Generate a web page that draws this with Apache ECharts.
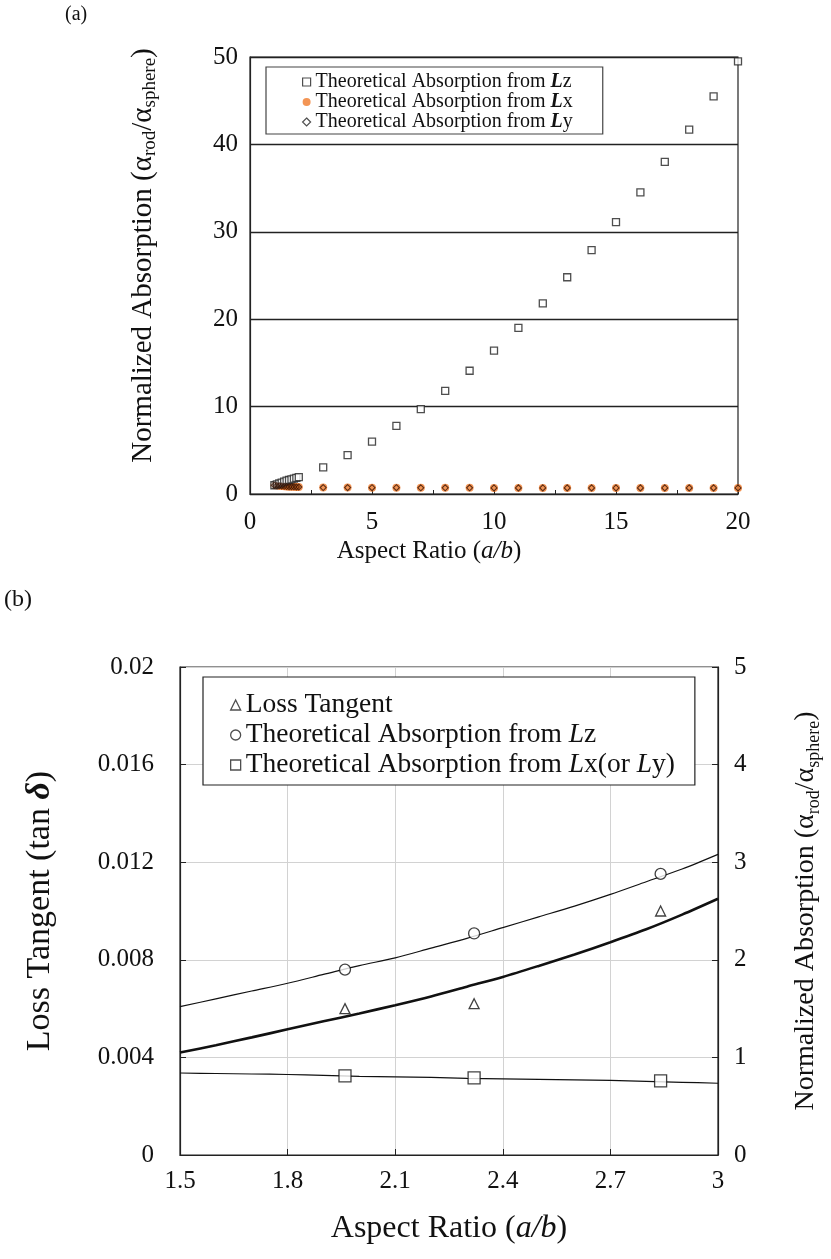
<!DOCTYPE html>
<html><head><meta charset="utf-8">
<script src="https://cdn.jsdelivr.net/npm/echarts@6/dist/echarts.min.js"></script>
<style>html,body{margin:0;padding:0;background:#fff}#c{width:831px;height:1259px}</style>
</head><body><div id="c"></div>
<script>
// ---------- (a) data ----------
const ratioA = [1.0,1.1,1.2,1.3,1.4,1.5,1.6,1.7,1.8,1.9,2.0,3,4,5,6,7,8,9,10,11,12,13,14,15,16,17,18,19,20];
const lzA = [1.00,1.10,1.20,1.30,1.41,1.52,1.60,1.68,1.76,1.85,1.94,3.05,4.45,6.0,7.8,9.7,11.8,14.1,16.4,19.0,21.8,24.8,27.9,31.1,34.5,38.0,41.7,45.5,49.5];
const lxA = [1.00,0.97,0.94,0.91,0.88,0.85,0.84,0.83,0.82,0.81,0.80,0.74,0.73,0.72,0.72,0.71,0.71,0.71,0.70,0.70,0.70,0.70,0.70,0.70,0.70,0.70,0.70,0.70,0.70];
const lyA = [1.00,0.97,0.94,0.91,0.88,0.85,0.84,0.83,0.82,0.81,0.80,0.74,0.73,0.72,0.72,0.71,0.71,0.71,0.70,0.70,0.70,0.70,0.70,0.70,0.70,0.70,0.70,0.70,0.70];

// ---------- (b) data ----------
const curveX = [1.5,1.6,1.7,1.8,1.9,2.0,2.1,2.2,2.3,2.4,2.5,2.6,2.7,2.8,2.9,3.0];
const lossCurve = [0.00420,0.00450,0.00482,0.00515,0.00548,0.00580,0.00614,0.00650,0.00690,0.00730,0.00775,0.00822,0.00872,0.00925,0.00985,0.01050];
const lzCurve = [1.52,1.60,1.68,1.76,1.85,1.94,2.02,2.12,2.22,2.33,2.44,2.55,2.67,2.80,2.93,3.08];
const lxCurve = [0.84,0.835,0.83,0.825,0.815,0.805,0.80,0.795,0.785,0.78,0.775,0.77,0.765,0.755,0.745,0.735];
const measX = [1.96,2.32,2.84];
const lossMeas = [0.0060,0.0062,0.0100];
const lzMeas = [1.90,2.27,2.88];
const lxMeas = [0.81,0.79,0.76];

const F = "'Liberation Serif','Times New Roman',serif";
const K = '#111';
const pair = (xs, ys) => xs.map((x, i) => [x, ys[i]]);

const chart = echarts.init(document.getElementById('c'), null, {renderer: 'canvas'});

const legendNamesA = {
  LzA: '{n|Theoretical Absorption from }{b|L}{n|z}',
  LxA: '{n|Theoretical Absorption from }{b|L}{n|x}',
  LyA: '{n|Theoretical Absorption from }{b|L}{n|y}'
};
const legendNamesB = {
  tanB: '{n|Loss Tangent}',
  LzB: '{n|Theoretical Absorption from }{i|L}{n|z}',
  LxB: '{n|Theoretical Absorption from }{i|L}{n|x(or }{i|L}{n|y)}'
};

const option = {
  animation: false,
  backgroundColor: '#fff',
  graphic: [
    {type: 'text', left: 65, top: 5, style: {text: '(a)', font: "20px " + F, fill: K}},
    {type: 'text', left: 4, top: 588, style: {text: '(b)', font: "24px " + F, fill: K}}
  ],
  grid: [
    {left: 250, top: 57, width: 488, height: 437, show: true, borderColor: '#222', borderWidth: 1.2, backgroundColor: 'transparent'},
    {left: 180, top: 667, width: 540, height: 488, show: true, borderColor: '#222', borderWidth: 1.2, backgroundColor: 'transparent'}
  ],
  legend: [
    {
      orient: 'vertical', left: 266, top: 67, itemWidth: 8, itemHeight: 8, itemGap: 0,
      padding: [5, 30, 2, 36], borderColor: '#444', borderWidth: 1.2, backgroundColor: '#fff',
      selectedMode: false,
      formatter: n => legendNamesA[n],
      textStyle: {fontFamily: F, fontSize: 20, color: K, lineHeight: 20,
        rich: {n: {fontFamily: F, fontSize: 20, color: K, lineHeight: 20},
               b: {fontFamily: F, fontSize: 20, color: K, fontWeight: 'bold', fontStyle: 'italic', lineHeight: 20}}},
      data: [
        {name: 'LzA', icon: 'rect', itemStyle: {color: '#fff', borderColor: '#222', borderWidth: 1.2}},
        {name: 'LxA', icon: 'circle', itemStyle: {color: '#f07b2a', borderWidth: 0}},
        {name: 'LyA', icon: 'diamond', itemStyle: {color: '#fff', borderColor: '#222', borderWidth: 1.2}}
      ]
    },
    {
      orient: 'vertical', left: 203, top: 677, itemWidth: 10, itemHeight: 10, itemGap: 0,
      padding: [13, 20, 5, 27], borderColor: '#222', borderWidth: 1.2, backgroundColor: '#fff',
      selectedMode: false,
      formatter: n => legendNamesB[n],
      textStyle: {fontFamily: F, fontSize: 27.5, color: K, lineHeight: 30,
        rich: {n: {fontFamily: F, fontSize: 27.5, color: K, lineHeight: 30},
               i: {fontFamily: F, fontSize: 27.5, color: K, fontStyle: 'italic', lineHeight: 30}}},
      data: [
        {name: 'tanB', icon: 'triangle', itemStyle: {color: '#fff', borderColor: '#222', borderWidth: 1.3}},
        {name: 'LzB', icon: 'circle', itemStyle: {color: '#fff', borderColor: '#222', borderWidth: 1.3}},
        {name: 'LxB', icon: 'rect', itemStyle: {color: '#fff', borderColor: '#222', borderWidth: 1.3}}
      ]
    }
  ],
  xAxis: [
    {
      gridIndex: 0, type: 'value', min: 0, max: 20, interval: 5,
      axisLine: {show: true, onZero: false, lineStyle: {color: '#222', width: 1.2}},
      axisTick: {show: true, inside: true, length: 4, lineStyle: {color: '#222'}},
      minorTick: {show: true, splitNumber: 2, length: 4, lineStyle: {color: '#222'}},
      axisLabel: {fontFamily: F, fontSize: 25, color: K, margin: 16},
      splitLine: {show: false},
      name: '{t|Aspect Ratio (}{i|a/b}{t|)}', nameLocation: 'middle', nameGap: 43,
      nameTextStyle: {padding: [0, 130, 0, 0],
        rich: {t: {fontFamily: F, fontSize: 25, color: K, lineHeight: 28},
               i: {fontFamily: F, fontSize: 25, color: K, fontStyle: 'italic', lineHeight: 28}}}
    },
    {
      gridIndex: 1, type: 'value', min: 1.5, max: 3, interval: 0.3,
      axisLine: {show: true, onZero: false, lineStyle: {color: '#222', width: 1.2}},
      axisTick: {show: true, inside: true, length: 6, lineStyle: {color: '#222'}},
      axisLabel: {fontFamily: F, fontSize: 25, color: K, margin: 14, formatter: v => String(Math.round(v * 10) / 10)},
      splitLine: {show: true, lineStyle: {color: '#d2d2d2', width: 1}},
      name: '{t|Aspect Ratio (}{i|a/b}{t|)}', nameLocation: 'middle', nameGap: 56,
      nameTextStyle: {rich: {t: {fontFamily: F, fontSize: 32, color: K, lineHeight: 36},
                             i: {fontFamily: F, fontSize: 32, color: K, fontStyle: 'italic', lineHeight: 36}}}
    }
  ],
  yAxis: [
    {
      gridIndex: 0, type: 'value', min: 0, max: 50, interval: 10,
      axisLine: {show: true, onZero: false, lineStyle: {color: '#222', width: 1.2}},
      axisTick: {show: false},
      axisLabel: {fontFamily: F, fontSize: 25, color: K, margin: 12},
      splitLine: {show: true, lineStyle: {color: '#222', width: 1.3}},
      name: '{t|Normalized Absorption (α}{s|rod}{t|/α}{s|sphere}{t|)}', nameLocation: 'middle', nameGap: 90, nameRotate: 90,
      nameTextStyle: {padding: [0, 0, 0, 40],
        rich: {t: {fontFamily: F, fontSize: 29, color: K, lineHeight: 34},
               s: {fontFamily: F, fontSize: 19, color: K, lineHeight: 34, verticalAlign: 'bottom'}}}
    },
    {
      gridIndex: 1, type: 'value', position: 'left', min: 0, max: 0.02, interval: 0.004,
      axisLine: {show: true, onZero: false, lineStyle: {color: '#222', width: 1.2}},
      axisTick: {show: true, inside: true, length: 6, lineStyle: {color: '#222'}},
      axisLabel: {fontFamily: F, fontSize: 25, color: K, margin: 26, formatter: v => v === 0 ? '0' : String(+v.toFixed(3))},
      splitLine: {show: true, lineStyle: {color: '#d2d2d2', width: 1}},
      name: '{t|Loss Tangent (tan }{d|δ}{t|)}', nameLocation: 'middle', nameGap: 120, nameRotate: 90,
      nameTextStyle: {rich: {t: {fontFamily: F, fontSize: 34, color: K, lineHeight: 40},
                             d: {fontFamily: F, fontSize: 34, color: K, fontStyle: 'italic', fontWeight: 'bold', lineHeight: 40}}}
    },
    {
      gridIndex: 1, type: 'value', position: 'right', min: 0, max: 5, interval: 1,
      axisLine: {show: true, onZero: false, lineStyle: {color: '#222', width: 1.2}},
      axisTick: {show: true, inside: true, length: 6, lineStyle: {color: '#222'}},
      axisLabel: {fontFamily: F, fontSize: 25, color: K, margin: 16},
      splitLine: {show: false},
      name: '{t|Normalized Absorption (α}{s|rod}{t|/α}{s|sphere}{t|)}', nameLocation: 'middle', nameGap: 71, nameRotate: 90,
      nameTextStyle: {rich: {t: {fontFamily: F, fontSize: 28, color: K, lineHeight: 34},
                             s: {fontFamily: F, fontSize: 18, color: K, lineHeight: 34, verticalAlign: 'bottom'}}}
    }
  ],
  series: [
    {type: 'scatter', name: 'LxA', xAxisIndex: 0, yAxisIndex: 0, data: pair(ratioA, lxA),
      symbol: 'circle', symbolSize: 8, itemStyle: {color: '#f07b2a'}, z: 2},
    {type: 'scatter', name: 'LzA', xAxisIndex: 0, yAxisIndex: 0, data: pair(ratioA, lzA),
      symbol: 'rect', symbolSize: 7, itemStyle: {color: '#fff', borderColor: '#222', borderWidth: 1.3}, z: 3},
    {type: 'scatter', name: 'LyA', xAxisIndex: 0, yAxisIndex: 0, data: pair(ratioA, lyA),
      symbol: 'diamond', symbolSize: 6, itemStyle: {color: 'rgba(0,0,0,0)', borderColor: '#3a1505', borderWidth: 1.1}, z: 4},

    {type: 'line', name: 'lzCurve', xAxisIndex: 1, yAxisIndex: 2, data: pair(curveX, lzCurve),
      smooth: 0.3, showSymbol: false, symbol: 'none', lineStyle: {color: '#111', width: 1.2}},
    {type: 'line', name: 'lossCurve', xAxisIndex: 1, yAxisIndex: 1, data: pair(curveX, lossCurve),
      smooth: 0.3, showSymbol: false, symbol: 'none', lineStyle: {color: '#111', width: 2.6}},
    {type: 'line', name: 'lxCurve', xAxisIndex: 1, yAxisIndex: 2, data: pair(curveX, lxCurve),
      smooth: 0.3, showSymbol: false, symbol: 'none', lineStyle: {color: '#111', width: 1.2}},

    {type: 'scatter', name: 'tanB', xAxisIndex: 1, yAxisIndex: 1, data: pair(measX, lossMeas),
      symbol: 'triangle', symbolSize: 10, itemStyle: {color: '#fff', borderColor: '#111', borderWidth: 1.3}, z: 5},
    {type: 'scatter', name: 'LzB', xAxisIndex: 1, yAxisIndex: 2, data: pair(measX, lzMeas),
      symbol: 'circle', symbolSize: 11, itemStyle: {color: '#fff', borderColor: '#111', borderWidth: 1.3}, z: 5},
    {type: 'scatter', name: 'LxB', xAxisIndex: 1, yAxisIndex: 2, data: pair(measX, lxMeas),
      symbol: 'rect', symbolSize: 12, itemStyle: {color: '#fff', borderColor: '#111', borderWidth: 1.3}, z: 5}
  ]
};
chart.setOption(option);
</script></body></html>
